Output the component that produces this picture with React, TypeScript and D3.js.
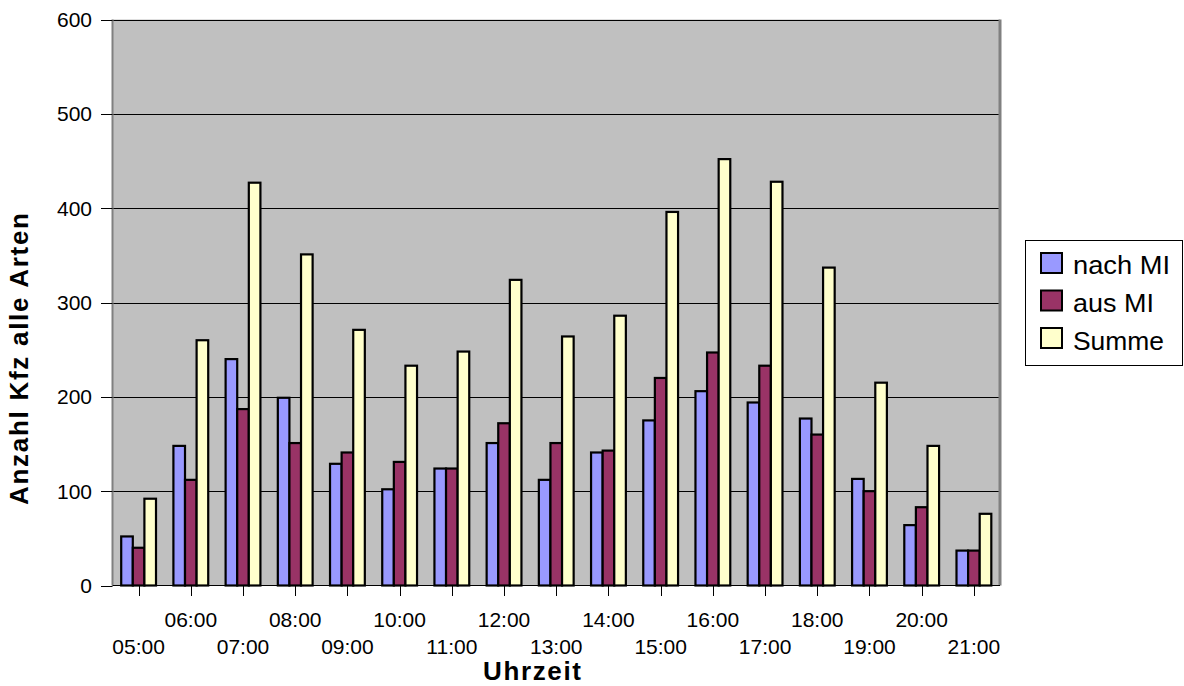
import React from "react";
import * as d3 from "d3";

const categories = ["05:00","06:00","07:00","08:00","09:00","10:00","11:00","12:00","13:00","14:00","15:00","16:00","17:00","18:00","19:00","20:00","21:00"];
const nachMI = [52,148,240,199,129,102,124,151,112,141,175,206,194,177,113,64,37];
const ausMI = [40,112,187,151,141,131,124,172,151,143,220,247,233,160,100,83,37];
const summe = [92,260,427,351,271,233,248,324,264,286,396,452,428,337,215,148,76];
const seriesNames = ["nach MI","aus MI","Summe"];
const seriesColors = ["#9999FF","#993366","#FFFFCC"];
const yTicks = [0,100,200,300,400,500,600];

const W = 1184, H = 686;
const plot = { left: 112.5, right: 1000, top: 19.5, bottom: 585.5 };
const FONT = "'Liberation Sans', Arial, sans-serif";
const legendWidths = [97, 81, 91];

export default function App() {
  const series = [nachMI, ausMI, summe];
  const x = d3.scaleBand<string>().domain(categories).range([plot.left, plot.right]).paddingInner(0).paddingOuter(0);
  const y = d3.scaleLinear().domain([0, 600]).range([plot.bottom, plot.top]);
  const bw = x.bandwidth() / 4.5;
  const inner = d3.scaleBand<number>().domain([0,1,2]).range([0, bw * 3]);
  const groupOffset = (x.bandwidth() - bw * 3) / 2;

  return (
    <svg width={W} height={H} style={{ position: "fixed", left: 0, top: 0, background: "#fff" }} fontFamily={FONT}>
      <rect x={0} y={0} width={W} height={H} fill="#fff" />
      <rect x={plot.left} y={plot.top} width={plot.right - plot.left} height={plot.bottom - plot.top} fill="#C0C0C0" />
      {yTicks.slice(1).map(t => (
        <line key={"g"+t} x1={plot.left} x2={plot.right} y1={Math.round(y(t)) + 0.5} y2={Math.round(y(t)) + 0.5} stroke="#000" strokeWidth={1} />
      ))}
      <line x1={plot.left} x2={plot.left} y1={plot.top} y2={plot.bottom} stroke="#808080" strokeWidth={2} />
      <line x1={plot.right} x2={plot.right} y1={plot.top} y2={plot.bottom} stroke="#808080" strokeWidth={3} />
      {categories.map((c, i) => (
        <g key={c}>
          {series.map((s, si) => (
            <rect key={si}
              x={(x(c) as number) + groupOffset + (inner(si) as number)}
              y={y(s[i])}
              width={bw}
              height={y(0) - y(s[i])}
              fill={seriesColors[si]} stroke="#000" strokeWidth={2.2} />
          ))}
        </g>
      ))}
      <line x1={plot.left} x2={plot.right} y1={plot.bottom} y2={plot.bottom} stroke="#000" strokeWidth={1.2} />
      {yTicks.map(t => (
        <g key={"y"+t}>
          <line x1={101} x2={plot.left} y1={Math.round(y(t)) + 0.5} y2={Math.round(y(t)) + 0.5} stroke="#000" strokeWidth={1} />
          <text x={92} y={y(t)} dy="0.36em" textAnchor="end" fontSize={21} fill="#000">{t}</text>
        </g>
      ))}
      {categories.map((c, i) => {
        const cx = (x(c) as number) + x.bandwidth() / 2;
        return (
          <g key={"x"+c}>
            <line x1={Math.round(cx) + 0.5} x2={Math.round(cx) + 0.5} y1={plot.bottom} y2={596} stroke="#000" strokeWidth={1} />
            <text x={cx} y={i % 2 === 0 ? 654 : 627} textAnchor="middle" fontSize={21} fill="#000">{c}</text>
          </g>
        );
      })}
      <text x={532} y={680} textAnchor="middle" fontSize={26} fontWeight="bold" textLength={98} lengthAdjust="spacing">Uhrzeit</text>
      <text transform="translate(28,359) rotate(-90)" textAnchor="middle" fontSize={26} fontWeight="bold" textLength={292} lengthAdjust="spacing">Anzahl Kfz alle Arten</text>
      <rect x={1025.5} y={240.5} width={157} height={125} fill="#fff" stroke="#000" strokeWidth={1} />
      {seriesNames.map((n, i) => (
        <g key={n}>
          <rect x={1041} y={253 + i * 37.5} width={21} height={20} fill={seriesColors[i]} stroke="#000" strokeWidth={2} />
          <text x={1073} y={274 + i * 38} fontSize={25} fill="#000" textLength={legendWidths[i]} lengthAdjust="spacingAndGlyphs">{n}</text>
        </g>
      ))}
    </svg>
  );
}
